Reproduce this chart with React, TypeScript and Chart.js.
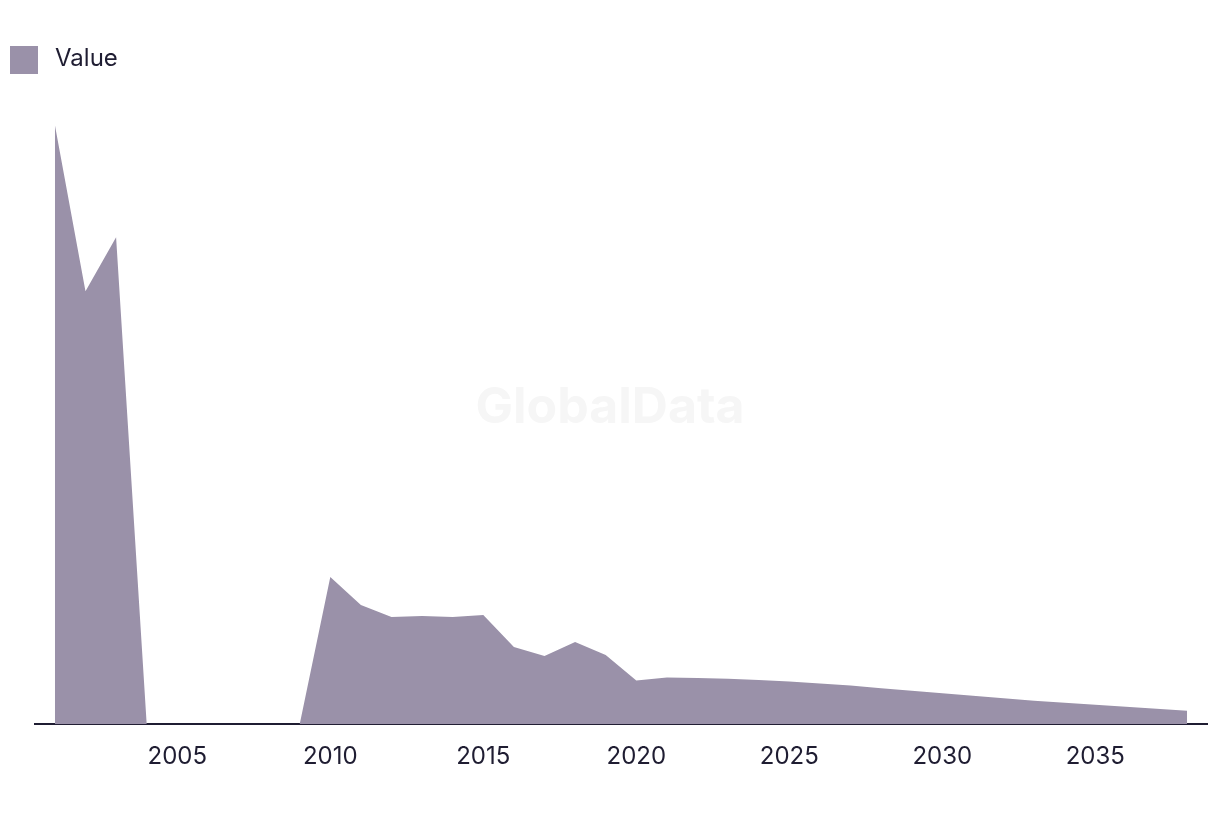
import React, { useEffect, useRef } from "react";
import { Chart, registerables } from "chart.js";

Chart.register(...registerables);

const years: number[] = [
  2001, 2002, 2003, 2004, 2005, 2006, 2007, 2008, 2009, 2010,
  2011, 2012, 2013, 2014, 2015, 2016, 2017, 2018, 2019, 2020,
  2021, 2022, 2023, 2024, 2025, 2026, 2027, 2028, 2029, 2030,
  2031, 2032, 2033, 2034, 2035, 2036, 2037, 2038,
];

const values: number[] = [
  59.8, 43.2, 48.6, 0, 0, 0, 0, 0, 0, 14.7,
  11.9, 10.7, 10.8, 10.7, 10.9, 7.7, 6.8, 8.2, 6.9, 4.35,
  4.65, 4.6, 4.53, 4.4, 4.25, 4.05, 3.85, 3.6, 3.35, 3.1,
  2.85, 2.6, 2.35, 2.15, 1.95, 1.75, 1.55, 1.35,
];

const tickYears: number[] = [2005, 2010, 2015, 2020, 2025, 2030, 2035];

const seriesLabel = "Value";
const fillColor = "#9a91a9";
const inkColor = "#1f1d32";
const fontFamily = "Inter, 'Liberation Sans', Arial, sans-serif";

const watermark = {
  id: "watermark",
  beforeDatasetsDraw(chart: any) {
    const { ctx } = chart;
    ctx.save();
    ctx.font = "bold 50px " + fontFamily;
    ctx.fillStyle = "#f6f6f6";
    ctx.textAlign = "center";
    ctx.textBaseline = "middle";
    ctx.fillText("GlobalData", 610, 408);
    ctx.restore();
  },
};

export default function App() {
  const ref = useRef<HTMLCanvasElement | null>(null);

  useEffect(() => {
    if (!ref.current) return;
    const chart = new Chart(ref.current, {
      type: "line",
      data: {
        datasets: [
          {
            label: seriesLabel,
            data: years.map((y, i) => ({ x: y, y: values[i] })),
            backgroundColor: fillColor,
            borderWidth: 0,
            borderColor: fillColor,
            fill: "origin",
            pointRadius: 0,
            tension: 0,
          },
        ],
      },
      options: {
        animation: false,
        responsive: false,
        maintainAspectRatio: false,
        layout: { padding: { left: 35, right: 13, top: 123, bottom: 25 } },
        plugins: {
          legend: { display: false },
          tooltip: { enabled: false },
        },
        scales: {
          x: {
            type: "linear",
            min: 2000.35,
            max: 2038.65,
            grid: { display: false, drawTicks: false },
            border: { display: true, color: inkColor, width: 2 },
            afterBuildTicks: (scale: any) => {
              scale.ticks = tickYears.map((v) => ({ value: v }));
            },
            ticks: {
              includeBounds: false,
              padding: 18,
              color: inkColor,
              font: { family: fontFamily, size: 24 },
              maxRotation: 0,
              autoSkip: false,
              callback: (v: any) => String(v),
            },
          },
          y: {
            display: false,
            min: 0,
            max: 60,
          },
        },
      },
      plugins: [watermark],
    });
    return () => chart.destroy();
  }, []);

  return (
    <div style={{ position: "fixed", left: 0, top: 0, width: 1220, height: 814, background: "#fff" }}>
      <canvas ref={ref} width={1220} height={814} style={{ position: "absolute", left: 0, top: 0, width: 1220, height: 814 }} />
      <div style={{ position: "absolute", left: 10, top: 46, width: 28, height: 28, background: fillColor }} />
      <div
        style={{
          position: "absolute",
          left: 55,
          top: 43,
          height: 30,
          lineHeight: "30px",
          fontFamily,
          fontSize: 24,
          color: inkColor,
        }}
      >
        {seriesLabel}
      </div>
    </div>
  );
}
